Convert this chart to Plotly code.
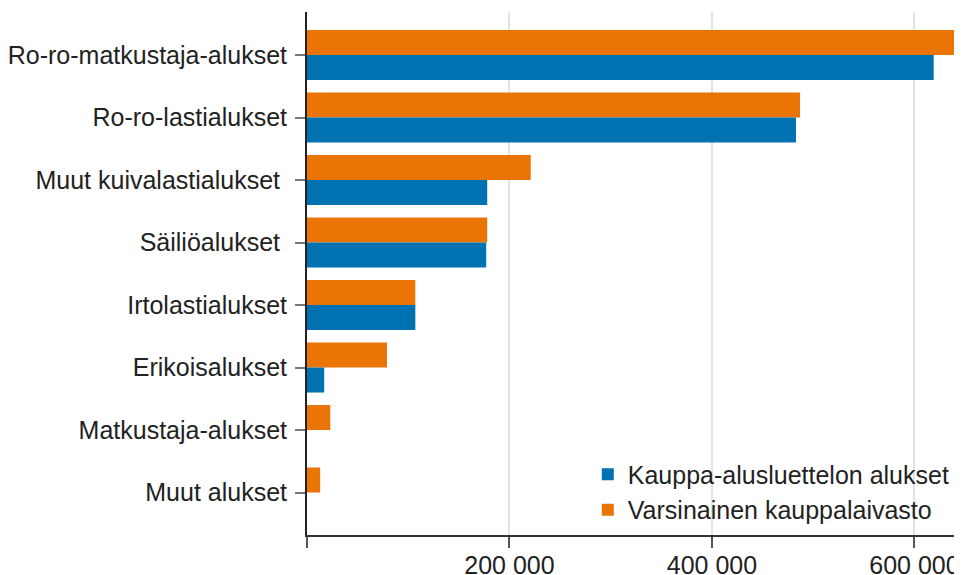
import plotly.graph_objects as go

categories = [
    "Ro-ro-matkustaja-alukset",
    "Ro-ro-lastialukset",
    "Muut kuivalastialukset\u00a0",
    "Säiliöalukset\u00a0",
    "Irtolastialukset",
    "Erikoisalukset",
    "Matkustaja-alukset",
    "Muut alukset",
]
kauppa_alusluettelo = [619000, 483000, 178000, 177000, 107000, 17000, 0, 0]
varsinainen = [641000, 487000, 221000, 178000, 107000, 79000, 23000, 13000]

tick_vals = [0, 200000, 400000, 600000]
tick_text = ["", "200 000", "400 000", "600 000"]

BLUE = "#0172b1"
ORANGE = "#ea7404"
FONT = "Liberation Sans, Arial, sans-serif"

fig = go.Figure()
fig.add_trace(go.Bar(
    y=categories, x=varsinainen, orientation="h",
    name="Varsinainen kauppalaivasto", marker_color=ORANGE,
    marker_line_width=0, legendrank=2,
))
fig.add_trace(go.Bar(
    y=categories, x=kauppa_alusluettelo, orientation="h",
    name="Kauppa-alusluettelon alukset", marker_color=BLUE,
    marker_line_width=0, legendrank=1,
))

# page body has an 8px default margin, so the figure is sized/offset to compensate
fig.update_layout(
    width=954, height=567,
    margin=dict(l=299, r=2, t=4, b=40, autoexpand=False),
    barmode="group", bargap=0.2, bargroupgap=0,
    plot_bgcolor="white", paper_bgcolor="white",
    font=dict(family=FONT, size=25, color="#222222"),
    legend=dict(
        x=0.43, y=0.005, xanchor="left", yanchor="bottom",
        font=dict(size=25, color="#222222"),
        bgcolor="rgba(0,0,0,0)", itemclick=False,
    ),
    xaxis=dict(
        range=[0, 645000], automargin=False,
        tickvals=tick_vals, ticktext=tick_text,
        showgrid=True, gridcolor="#e3e3e3", gridwidth=2,
        zeroline=False,
        showline=True, linecolor="#333333", linewidth=2,
        ticks="outside", ticklen=11, tickcolor="#555555", tickwidth=2,
        ticklabelstandoff=-4,
    ),
    yaxis=dict(
        categoryorder="array", categoryarray=categories,
        range=[7.68, -0.69], automargin=False,
        showgrid=False, zeroline=False,
        showline=True, linecolor="#222222", linewidth=2,
        ticks="outside", ticklen=10, tickcolor="#777777", tickwidth=2,
        ticklabelstandoff=3,
    ),
)

fig.write_html("out.html")
